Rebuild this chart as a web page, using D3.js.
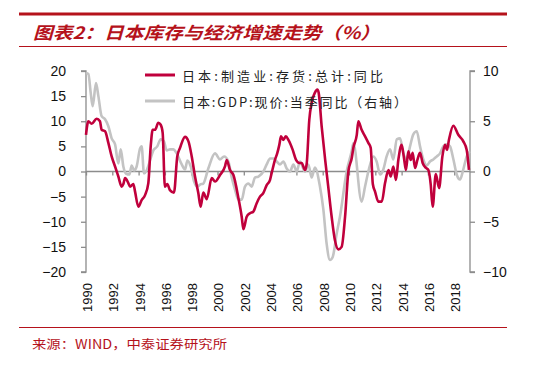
<!DOCTYPE html>
<html><head><meta charset="utf-8">
<script src="https://cdn.jsdelivr.net/npm/d3@7"></script>
<style>html,body{margin:0;padding:0;background:#fff;}svg{display:block;}</style>
</head><body>
<script>
// ---- data ----
const invYears = [1990.00,1990.18,1990.43,1990.81,1991.06,1991.19,1991.45,1991.70,1991.95,1992.21,1992.46,1992.71,1992.84,1992.97,1993.22,1993.35,1993.60,1993.73,1993.98,1994.23,1994.49,1994.74,1994.92,1995.07,1995.25,1995.50,1995.68,1995.83,1996.00,1996.18,1996.38,1996.69,1996.94,1997.15,1997.53,1997.79,1998.04,1998.29,1998.54,1998.72,1998.92,1999.18,1999.56,1999.81,2000.19,2000.57,2000.70,2000.95,2001.21,2001.59,2001.84,2001.97,2002.22,2002.47,2002.72,2002.98,2003.23,2003.48,2003.74,2003.99,2004.12,2004.37,2004.55,2004.70,2004.83,2005.00,2005.20,2005.39,2005.72,2005.97,2006.22,2006.40,2006.65,2006.78,2006.98,2007.16,2007.41,2007.59,2007.69,2007.92,2008.20,2008.42,2008.68,2008.93,2009.19,2009.44,2009.70,2009.95,2010.21,2010.33,2010.59,2010.71,2010.96,2011.22,2011.47,2011.65,2011.81,2011.98,2012.23,2012.49,2012.74,2013.00,2013.17,2013.37,2013.57,2013.75,2014.00,2014.18,2014.33,2014.51,2014.69,2014.84,2015.02,2015.20,2015.40,2015.60,2015.86,2016.03,2016.21,2016.36,2016.60,2016.85,2017.10,2017.30,2017.45,2017.60,2017.93,2018.31,2018.69,2018.95,2019.12];
const invValues = [7.3,10.0,9.5,10.5,10.0,8.3,8.0,5.7,3.0,1.0,-1.0,-3.0,-2.5,-1.3,-2.3,-3.0,-2.5,-4.0,-7.0,-5.7,-4.7,-2.3,5.0,8.3,8.3,9.7,9.3,7.7,-3.0,-2.5,-3.7,-4.2,3.0,4.7,6.9,6.0,3.0,-1.0,-4.3,-7.0,-4.2,-5.5,-1.3,-2.0,-0.7,1.0,2.3,0.3,-0.7,-5.3,-9.0,-11.5,-9.0,-8.3,-8.0,-6.3,-5.0,-4.3,-2.7,-1.7,-0.3,2.3,3.7,5.3,7.0,6.3,7.0,6.3,4.3,2.3,1.7,1.7,0.3,1.5,10.3,13.7,15.7,16.3,15.7,9.0,2.0,-3.0,-9.0,-13.7,-15.5,-15.0,-9.0,0.0,2.7,4.7,7.3,10.0,8.3,7.0,5.7,4.7,-2.5,-4.0,-6.0,-6.0,-2.3,0.3,-1.0,1.0,-1.7,2.3,5.3,2.7,0.3,4.0,2.3,3.7,0.7,2.3,3.7,1.7,0.7,0.3,-2.5,-7.0,-0.5,-3.3,3.0,5.3,4.3,6.3,9.1,7.3,6.0,4.3,0.3];

const gdpYears = [1990.00,1990.18,1990.36,1990.51,1990.76,1990.94,1991.19,1991.45,1991.70,1991.95,1992.21,1992.46,1992.64,1992.84,1993.04,1993.30,1993.47,1993.65,1993.85,1994.11,1994.23,1994.41,1994.61,1994.87,1995.12,1995.42,1995.68,1995.93,1996.13,1996.39,1996.64,1996.90,1997.28,1997.53,1997.71,1997.96,1998.22,1998.47,1998.67,1998.92,1999.30,1999.81,2000.19,2000.50,2000.83,2001.08,2001.33,2001.59,2001.84,2002.09,2002.35,2002.60,2002.85,2003.11,2003.49,2003.74,2004.00,2004.25,2004.50,2004.75,2005.01,2005.26,2005.51,2005.77,2006.02,2006.27,2006.65,2006.91,2007.16,2007.41,2007.79,2008.05,2008.30,2008.55,2008.76,2009.06,2009.31,2009.82,2010.20,2010.33,2010.96,2011.22,2011.47,2011.85,2012.10,2012.36,2012.61,2012.86,2013.12,2013.37,2013.63,2013.88,2014.13,2014.39,2014.64,2014.89,2015.15,2015.40,2015.65,2015.91,2016.16,2016.41,2016.67,2016.92,2017.17,2017.43,2017.68,2017.94,2018.19,2018.44,2018.69,2018.95,2019.20];
const gdpValues = [9.8,9.7,7.8,6.5,8.8,7.5,5.5,5.2,4.5,3.3,2.7,0.8,2.2,0.5,-0.2,-0.3,0.6,0.1,0.5,2.3,2.5,-0.2,0.1,1.1,2.1,2.5,3.2,3.0,2.1,2.2,2.2,1.8,0.7,0.2,1.1,0.5,-1.0,-1.5,-1.3,-1.2,0.3,1.8,1.2,1.5,1.0,-0.6,-1.8,-2.8,-2.8,-1.5,-1.2,-1.5,-0.6,-0.5,0.0,0.7,1.3,1.3,1.0,0.7,1.0,0.3,0.0,0.7,0.0,1.0,0.0,0.7,-0.6,0.4,-1.5,-3.8,-7.2,-8.8,-8.5,-6.2,-4.5,0.0,2.0,2.8,-3.0,-1.5,0.0,1.5,1.0,-0.3,0.2,1.5,2.2,1.2,3.2,3.3,1.8,1.2,2.5,3.7,4.0,2.5,1.2,0.6,1.0,1.2,1.5,1.8,2.5,2.7,2.5,1.2,-0.3,-0.8,0.2,1.5,2.0];

const xTickYears = [1990,1992,1994,1996,1998,2000,2002,2004,2006,2008,2010,2012,2014,2016,2018];
const leftTicks = [-20,-15,-10,-5,0,5,10,15,20];
const rightTicks = [-10,-5,0,5,10];
const seriesNames = ["日本:制造业:存货:总计:同比", "日本:GDP:现价:当季同比（右轴）"];
const titleText = "图表2：日本库存与经济增速走势（%）";
const sourceText = "来源：WIND，中泰证券研究所";

// ---- drawing ----
const W = 547, H = 365;
const svg = d3.select("body").append("svg").attr("width", W).attr("height", H);
svg.append("rect").attr("width", W).attr("height", H).attr("fill", "#fff");

const red = "#c0003c", gray = "#c3c3c3", axisCol = "#8c8c8c", brand = "#b5121b";
const x = d3.scaleLinear().domain([1990, 2019.2]).range([86, 470]);
const yL = d3.scaleLinear().domain([-20, 20]).range([272, 71]);
const yR = d3.scaleLinear().domain([-10, 10]).range([272, 71]);

// header
svg.append("line").attr("x1", 19).attr("x2", 507).attr("y1", 14).attr("y2", 14)
  .attr("stroke", brand).attr("stroke-width", 3);
svg.append("text").attr("x", 33).attr("y", 39).text(titleText)
  .attr("font-family", "Noto Sans CJK SC").attr("font-size", 17).attr("font-weight", "bold")
  .attr("font-style", "italic").attr("fill", brand)
  .attr("textLength", 347).attr("lengthAdjust", "spacingAndGlyphs");
svg.append("line").attr("x1", 19).attr("x2", 507).attr("y1", 46.5).attr("y2", 46.5)
  .attr("stroke", brand).attr("stroke-width", 1);

// source
svg.append("line").attr("x1", 19).attr("x2", 507).attr("y1", 327.5).attr("y2", 327.5)
  .attr("stroke", brand).attr("stroke-width", 1);
svg.append("text").attr("x", 32).attr("y", 349).text(sourceText)
  .attr("font-family", "Noto Sans CJK SC").attr("font-size", 12.5).attr("fill", brand)
  .attr("textLength", 195).attr("lengthAdjust", "spacingAndGlyphs");

// left axis
const gL = svg.append("g").attr("transform", `translate(${x.range()[0]},0)`)
  .call(d3.axisLeft(yL).tickValues(leftTicks).tickSize(5).tickPadding(15).tickFormat(d3.format("")));
// right axis
const gR = svg.append("g").attr("transform", `translate(${x.range()[1]},0)`)
  .call(d3.axisRight(yR).tickValues(rightTicks).tickSize(5).tickPadding(8).tickFormat(d3.format("")));
[gL, gR].forEach(g => {
  g.select(".domain").attr("stroke", axisCol).attr("stroke-width", 1.3)
    .attr("d", g === gL ? `M-5,${yL(20)}H0V${yL(-20)}H-5` : `M5,${yR(10)}H0V${yR(-10)}H5`);
  g.selectAll(".tick line").attr("stroke", axisCol).attr("stroke-width", 1.3);
  g.selectAll(".tick text").attr("font-family", "Liberation Sans, Arial").attr("font-size", 14).attr("fill", "#111");
});

// zero axis (x)
const gX = svg.append("g").attr("transform", `translate(0,${yL(0)})`)
  .call(d3.axisBottom(x).tickValues(xTickYears).tickSize(4).tickFormat(""));
gX.select(".domain").attr("stroke", axisCol).attr("stroke-width", 1.3).attr("d", `M${x.range()[0]},0H${x.range()[1]}`);
gX.selectAll(".tick line").attr("stroke", axisCol).attr("stroke-width", 1.3);

// x labels at bottom, rotated
svg.append("g").selectAll("text").data(xTickYears).join("text")
  .attr("transform", d => `translate(${x(d) + 2.5},283) rotate(-90)`)
  .attr("text-anchor", "end").attr("dominant-baseline", "middle")
  .attr("font-family", "Liberation Sans, Arial").attr("font-size", 13).attr("fill", "#111")
  .text(d => d);

// series
const gdpData = gdpYears.map((t, i) => [t, gdpValues[i]]);
const invData = invYears.map((t, i) => [t, invValues[i]]);
svg.append("path").datum(gdpData)
  .attr("d", d3.line().x(d => x(d[0])).y(d => yR(d[1])).curve(d3.curveMonotoneX))
  .attr("fill", "none").attr("stroke", gray).attr("stroke-width", 2.6).attr("stroke-linejoin", "round");
svg.append("path").datum(invData)
  .attr("d", d3.line().x(d => x(d[0])).y(d => yL(d[1])).curve(d3.curveMonotoneX))
  .attr("fill", "none").attr("stroke", red).attr("stroke-width", 2.6).attr("stroke-linejoin", "round");

// legend
const leg = svg.append("g");
const legCols = [red, gray];
const legLen = [201, 225];
seriesNames.forEach((n, i) => {
  const yy = 75 + i * 26;
  leg.append("line").attr("x1", 145).attr("x2", 175).attr("y1", yy).attr("y2", yy)
    .attr("stroke", legCols[i]).attr("stroke-width", 3);
  leg.append("text").attr("x", 182).attr("y", yy).attr("dominant-baseline", "central")
    .attr("font-family", "Noto Sans CJK SC").attr("font-size", 13).attr("fill", "#222")
    .attr("textLength", legLen[i]).attr("lengthAdjust", "spacing").text(n);
});
</script>
</body></html>
